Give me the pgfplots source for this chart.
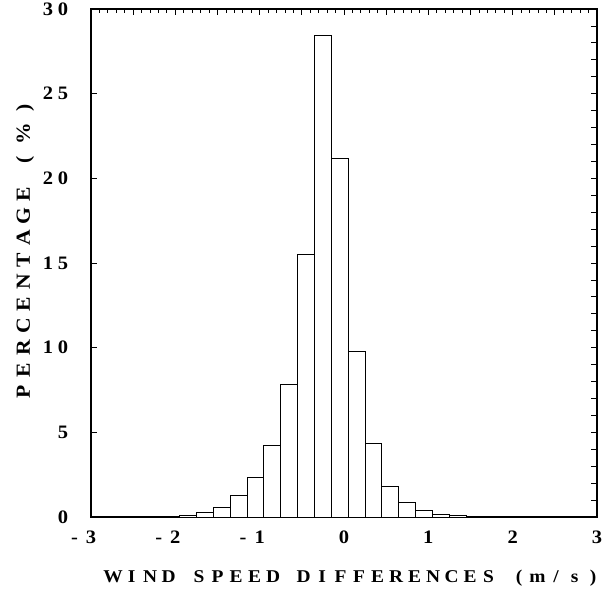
\documentclass[border=0pt]{standalone}
\usepackage{fontspec}
\setmainfont{Liberation Serif}
\newfontfamily\labfont[FakeStretch=1.08]{Liberation Serif}
\usepackage{pgfplots}
\pgfplotsset{compat=1.18}
\newcommand{\xl}[1]{\makebox[18.5bp]{#1}}
\newcommand{\yl}[1]{\makebox[22bp]{#1}}
\newcommand{\yp}[1]{\makebox[26bp]{#1}}
\newcommand{\tl}[1]{\makebox[15bp]{#1}}
\begin{document}
\begin{tikzpicture}
\useasboundingbox (-91bp,-78bp) rectangle (520bp,517bp);
\begin{axis}[
  scale only axis, width=506bp, height=508bp,
  xmin=-3, xmax=3, ymin=0, ymax=30,
  axis line style={line width=1.2bp},
  xtick={-3,-2,...,3},
  xticklabels={{\llap{-\hspace{8bp}}3},{\llap{-\hspace{8bp}}2},{\llap{-\hspace{8bp}}1},0,1,2,3},
  xtick style={draw=none},
  ytick={0,5,...,30},
  yticklabels={\tl{0},\tl{5},\tl{1}\tl{0},\tl{1}\tl{5},\tl{2}\tl{0},\tl{2}\tl{5},\tl{3}\tl{0}},
  ytick pos=left, tick align=inside,
  major tick length=6bp,
  ytick style={line width=0.8bp, black},
  ticklabel style={font=\labfont\fontsize{19bp}{22bp}\selectfont\bfseries},
  xticklabel style={yshift=-10bp},
  yticklabel style={xshift=-17bp},
  xlabel={\xl{W}\xl{I}\xl{N}\xl{D}\hspace{12bp}\xl{S}\xl{P}\xl{E}\xl{E}\xl{D}\hspace{12bp}\xl{D}\xl{I}\xl{F}\xl{F}\xl{E}\xl{R}\xl{E}\xl{N}\xl{C}\xl{E}\xl{S}\hspace{12bp}\xl{(}\xl{m}\xl{/}\xl{s}\xl{)}},
  ylabel={\yl{P}\yl{E}\yl{R}\yl{C}\yl{E}\yl{N}\yl{T}\yl{A}\yl{G}\yl{E}\hspace{10bp}\yp{(}\yp{\%}\yp{)}},
  xlabel style={at={(axis description cs:0.518,-0.12)}, anchor=center, font=\labfont\fontsize{18bp}{21bp}\selectfont\bfseries},
  ylabel style={at={(axis description cs:-0.1304,0.5276)}, anchor=center, font=\labfont\fontsize{20bp}{23bp}\selectfont\bfseries},
]
\addplot[ybar interval, fill=white, draw=black, line width=0.9bp] coordinates {
(-2.15,0.04) (-1.95,0.08) (-1.75,0.24) (-1.55,0.57) (-1.35,1.28) (-1.15,2.36)
(-0.95,4.25) (-0.75,7.83) (-0.55,15.52) (-0.35,28.43) (-0.15,21.15) (0.05,9.8)
(0.25,4.37) (0.45,1.81) (0.65,0.86) (0.85,0.37) (1.05,0.17) (1.25,0.09)
(1.45,0.05) (1.65,0.03) (1.85,0.02) (2.05,0.01) (2.25,0)
};
\end{axis}
\begin{axis}[
  scale only axis, width=506bp, height=508bp,
  xmin=-3, xmax=3, ymin=0, ymax=30,
  axis line style={draw=none},
  xtick pos=right, ytick pos=right,
  xtick={-3,-2.5,...,3}, minor x tick num=4,
  ytick={0,1,...,30},
  xticklabels={}, yticklabels={},
  tick align=inside,
  major tick length=6bp, minor tick length=4bp,
  every tick/.style={line width=0.8bp, black},
]
\end{axis}
\end{tikzpicture}
\end{document}
